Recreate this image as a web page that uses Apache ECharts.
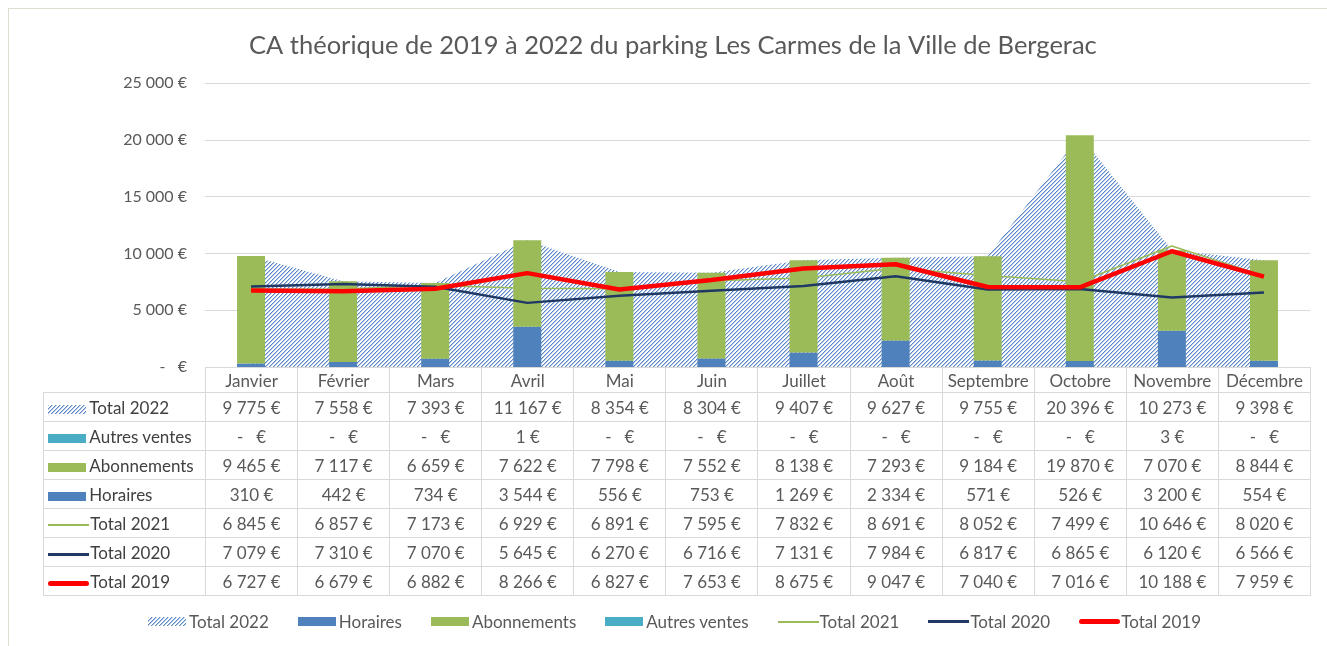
<!DOCTYPE html>
<html>
<head>
<meta charset="utf-8">
<script src="https://cdn.jsdelivr.net/npm/echarts@6/dist/echarts.min.js"></script>
<style>
  html, body { margin: 0; padding: 0; background: #fff; overflow: hidden; }
  #wrap { position: relative; width: 1327px; height: 646px; overflow: hidden; font-family: Lato, 'Open Sans', sans-serif; }
  #frame { position: absolute; left: 8px; top: 8px; width: 1400px; height: 700px; border: 1px solid #deded0; }
  #chart { position: absolute; left: 0; top: 0; width: 1327px; height: 646px; }
  #dataTable { position: absolute; left: 43px; top: 367px; border-collapse: collapse; table-layout: fixed; color: #595959; font-size: 17px; }
  #dataTable td { border: 1px solid #d9d9d9; text-align: center; padding: 0; white-space: pre; }
  #dataTable tr.head td { height: 24px; }
  #dataTable tr.row td { height: 28px; }
  #dataTable td.lab { text-align: left; color: #404040; }
  #dataTable td.corner { border-top: none; border-left: none; }
  .sw { display: inline-block; vertical-align: middle; margin-right: 3px; }
  #legend { position: absolute; left: 0; width: 1349px; top: 611px; display: flex; justify-content: center; gap: 29px; color: #595959; font-size: 17px; }
  #legend span.item { display: flex; align-items: center; white-space: nowrap; }
</style>
</head>
<body>
<div id="wrap">
  <div id="frame"></div>
  <div id="chart"></div>
  <table id="dataTable"></table>
  <div id="legend"></div>
</div>
<script>
const months = ['Janvier', 'Février', 'Mars', 'Avril', 'Mai', 'Juin', 'Juillet', 'Août', 'Septembre', 'Octobre', 'Novembre', 'Décembre']
const total2022 = [9775, 7558, 7393, 11167, 8354, 8304, 9407, 9627, 9755, 20396, 10273, 9398]
const autresVentes = [0, 0, 0, 1, 0, 0, 0, 0, 0, 0, 3, 0]
const abonnements = [9465, 7117, 6659, 7622, 7798, 7552, 8138, 7293, 9184, 19870, 7070, 8844]
const horaires = [310, 442, 734, 3544, 556, 753, 1269, 2334, 571, 526, 3200, 554]
const total2021 = [6845, 6857, 7173, 6929, 6891, 7595, 7832, 8691, 8052, 7499, 10646, 8020]
const total2020 = [7079, 7310, 7070, 5645, 6270, 6716, 7131, 7984, 6817, 6865, 6120, 6566]
const total2019 = [6727, 6679, 6882, 8266, 6827, 7653, 8675, 9047, 7040, 7016, 10188, 7959]
const yTicks = [0, 5000, 10000, 15000, 20000, 25000]

const BLUE = '#4f81bd'
const GREEN = '#9bbb59'
const TEAL = '#4bacc6'
const NAVY = '#1f3864'
const RED = '#ff0000'

// motif hachuré pour l'aire Total 2022
const tile = document.createElement('canvas')
tile.width = 8
tile.height = 8
const tctx = tile.getContext('2d')
tctx.fillStyle = '#ffffff'
tctx.fillRect(0, 0, 8, 8)
for (let i = 0; i < 8; i++) {
  tctx.fillStyle = '#5a88c8'
  tctx.fillRect(i, 7 - i, 1, 1)
  tctx.fillRect(i, (11 - i) % 8, 1, 1)
  tctx.fillStyle = '#b4c9e8'
  tctx.fillRect(i, (8 - i) % 8, 1, 1)
  tctx.fillRect(i, (12 - i) % 8, 1, 1)
}
const hatchUrl = tile.toDataURL()
const hatchImg = new Image()
hatchImg.src = hatchUrl

function euro(v) {
  if (v === 0) return '-   €'
  return String(v).replace(/\B(?=(\d{3})+(?!\d))/g, '\u00a0') + '\u00a0€'
}

// légendes (table + bas)
const keys = {
  'Total 2022': `<span class="sw" style="width:38px;height:9px;background:url(${hatchUrl})"></span>`,
  'Autres ventes': `<span class="sw" style="width:38px;height:9px;background:${TEAL}"></span>`,
  'Abonnements': `<span class="sw" style="width:38px;height:9px;background:${GREEN}"></span>`,
  'Horaires': `<span class="sw" style="width:38px;height:9px;background:${BLUE}"></span>`,
  'Total 2021': `<span class="sw" style="width:41px;height:2px;background:${GREEN};margin-right:1px"></span>`,
  'Total 2020': `<span class="sw" style="width:41px;height:3px;background:${NAVY};margin-right:1px"></span>`,
  'Total 2019': `<span class="sw" style="width:41px;height:5px;border-radius:3px;background:${RED};margin-right:1px"></span>`
}

const rows = [
  ['Total 2022', total2022],
  ['Autres ventes', autresVentes],
  ['Abonnements', abonnements],
  ['Horaires', horaires],
  ['Total 2021', total2021],
  ['Total 2020', total2020],
  ['Total 2019', total2019]
]

const colW = (1310 - 205) / 12
let html = '<colgroup><col style="width:162px">' + months.map(() => `<col style="width:${colW}px">`).join('') + '</colgroup>'
html += '<tr class="head"><td class="corner"></td>' + months.map(m => `<td>${m}</td>`).join('') + '</tr>'
rows.forEach(([name, vals]) => {
  html += `<tr class="row"><td class="lab">&nbsp;${keys[name]}${name}</td>` + vals.map(v => `<td>${euro(v)}</td>`).join('') + '</tr>'
})
document.getElementById('dataTable').innerHTML = html

const legendOrder = ['Total 2022', 'Horaires', 'Abonnements', 'Autres ventes', 'Total 2021', 'Total 2020', 'Total 2019']
document.getElementById('legend').innerHTML = legendOrder.map(n => `<span class="item">${keys[n]}${n}</span>`).join('')

const chart = echarts.init(document.getElementById('chart'))

function draw() {
  chart.setOption({
    animation: false,
    title: {
      text: 'CA théorique de 2019 à 2022 du parking Les Carmes de la Ville de Bergerac',
      left: 244,
      top: 28,
      textStyle: { fontFamily: 'Lato', fontWeight: 'normal', fontSize: 25.5, color: '#595959' }
    },
    grid: { left: 205, right: 17, top: 83, bottom: 279 },
    xAxis: {
      type: 'category',
      data: months,
      axisLabel: { show: false },
      axisTick: { show: false },
      axisLine: { show: false }
    },
    yAxis: {
      type: 'value',
      min: yTicks[0],
      max: yTicks[yTicks.length - 1],
      interval: yTicks[1] - yTicks[0],
      axisLabel: {
        margin: 18,
        fontFamily: 'Lato',
        fontSize: 16,
        color: '#595959',
        formatter: v => euro(v)
      },
      splitLine: { lineStyle: { color: '#d9d9d9', width: 1 } }
    },
    series: [
      {
        name: 'Total 2022',
        type: 'line',
        data: total2022,
        showSymbol: false,
        lineStyle: { width: 0, opacity: 0 },
        areaStyle: { color: { image: hatchImg, repeat: 'repeat' }, opacity: 1 },
        z: 1
      },
      {
        name: 'Horaires',
        type: 'bar',
        stack: 'ca',
        data: horaires,
        barWidth: 28,
        itemStyle: { color: BLUE },
        z: 2
      },
      {
        name: 'Abonnements',
        type: 'bar',
        stack: 'ca',
        data: abonnements,
        barWidth: 28,
        itemStyle: { color: GREEN },
        z: 2
      },
      {
        name: 'Autres ventes',
        type: 'bar',
        stack: 'ca',
        data: autresVentes,
        barWidth: 28,
        itemStyle: { color: TEAL },
        z: 2
      },
      {
        name: 'Total 2021',
        type: 'line',
        data: total2021,
        showSymbol: false,
        lineStyle: { color: GREEN, width: 1.5 },
        z: 3
      },
      {
        name: 'Total 2020',
        type: 'line',
        data: total2020,
        showSymbol: false,
        lineStyle: { color: NAVY, width: 2.5 },
        z: 3
      },
      {
        name: 'Total 2019',
        type: 'line',
        data: total2019,
        showSymbol: false,
        lineStyle: { color: RED, width: 4.5 },
        z: 4
      }
    ]
  })
}

if (hatchImg.complete) draw()
else hatchImg.onload = draw
</script>
</body>
</html>
